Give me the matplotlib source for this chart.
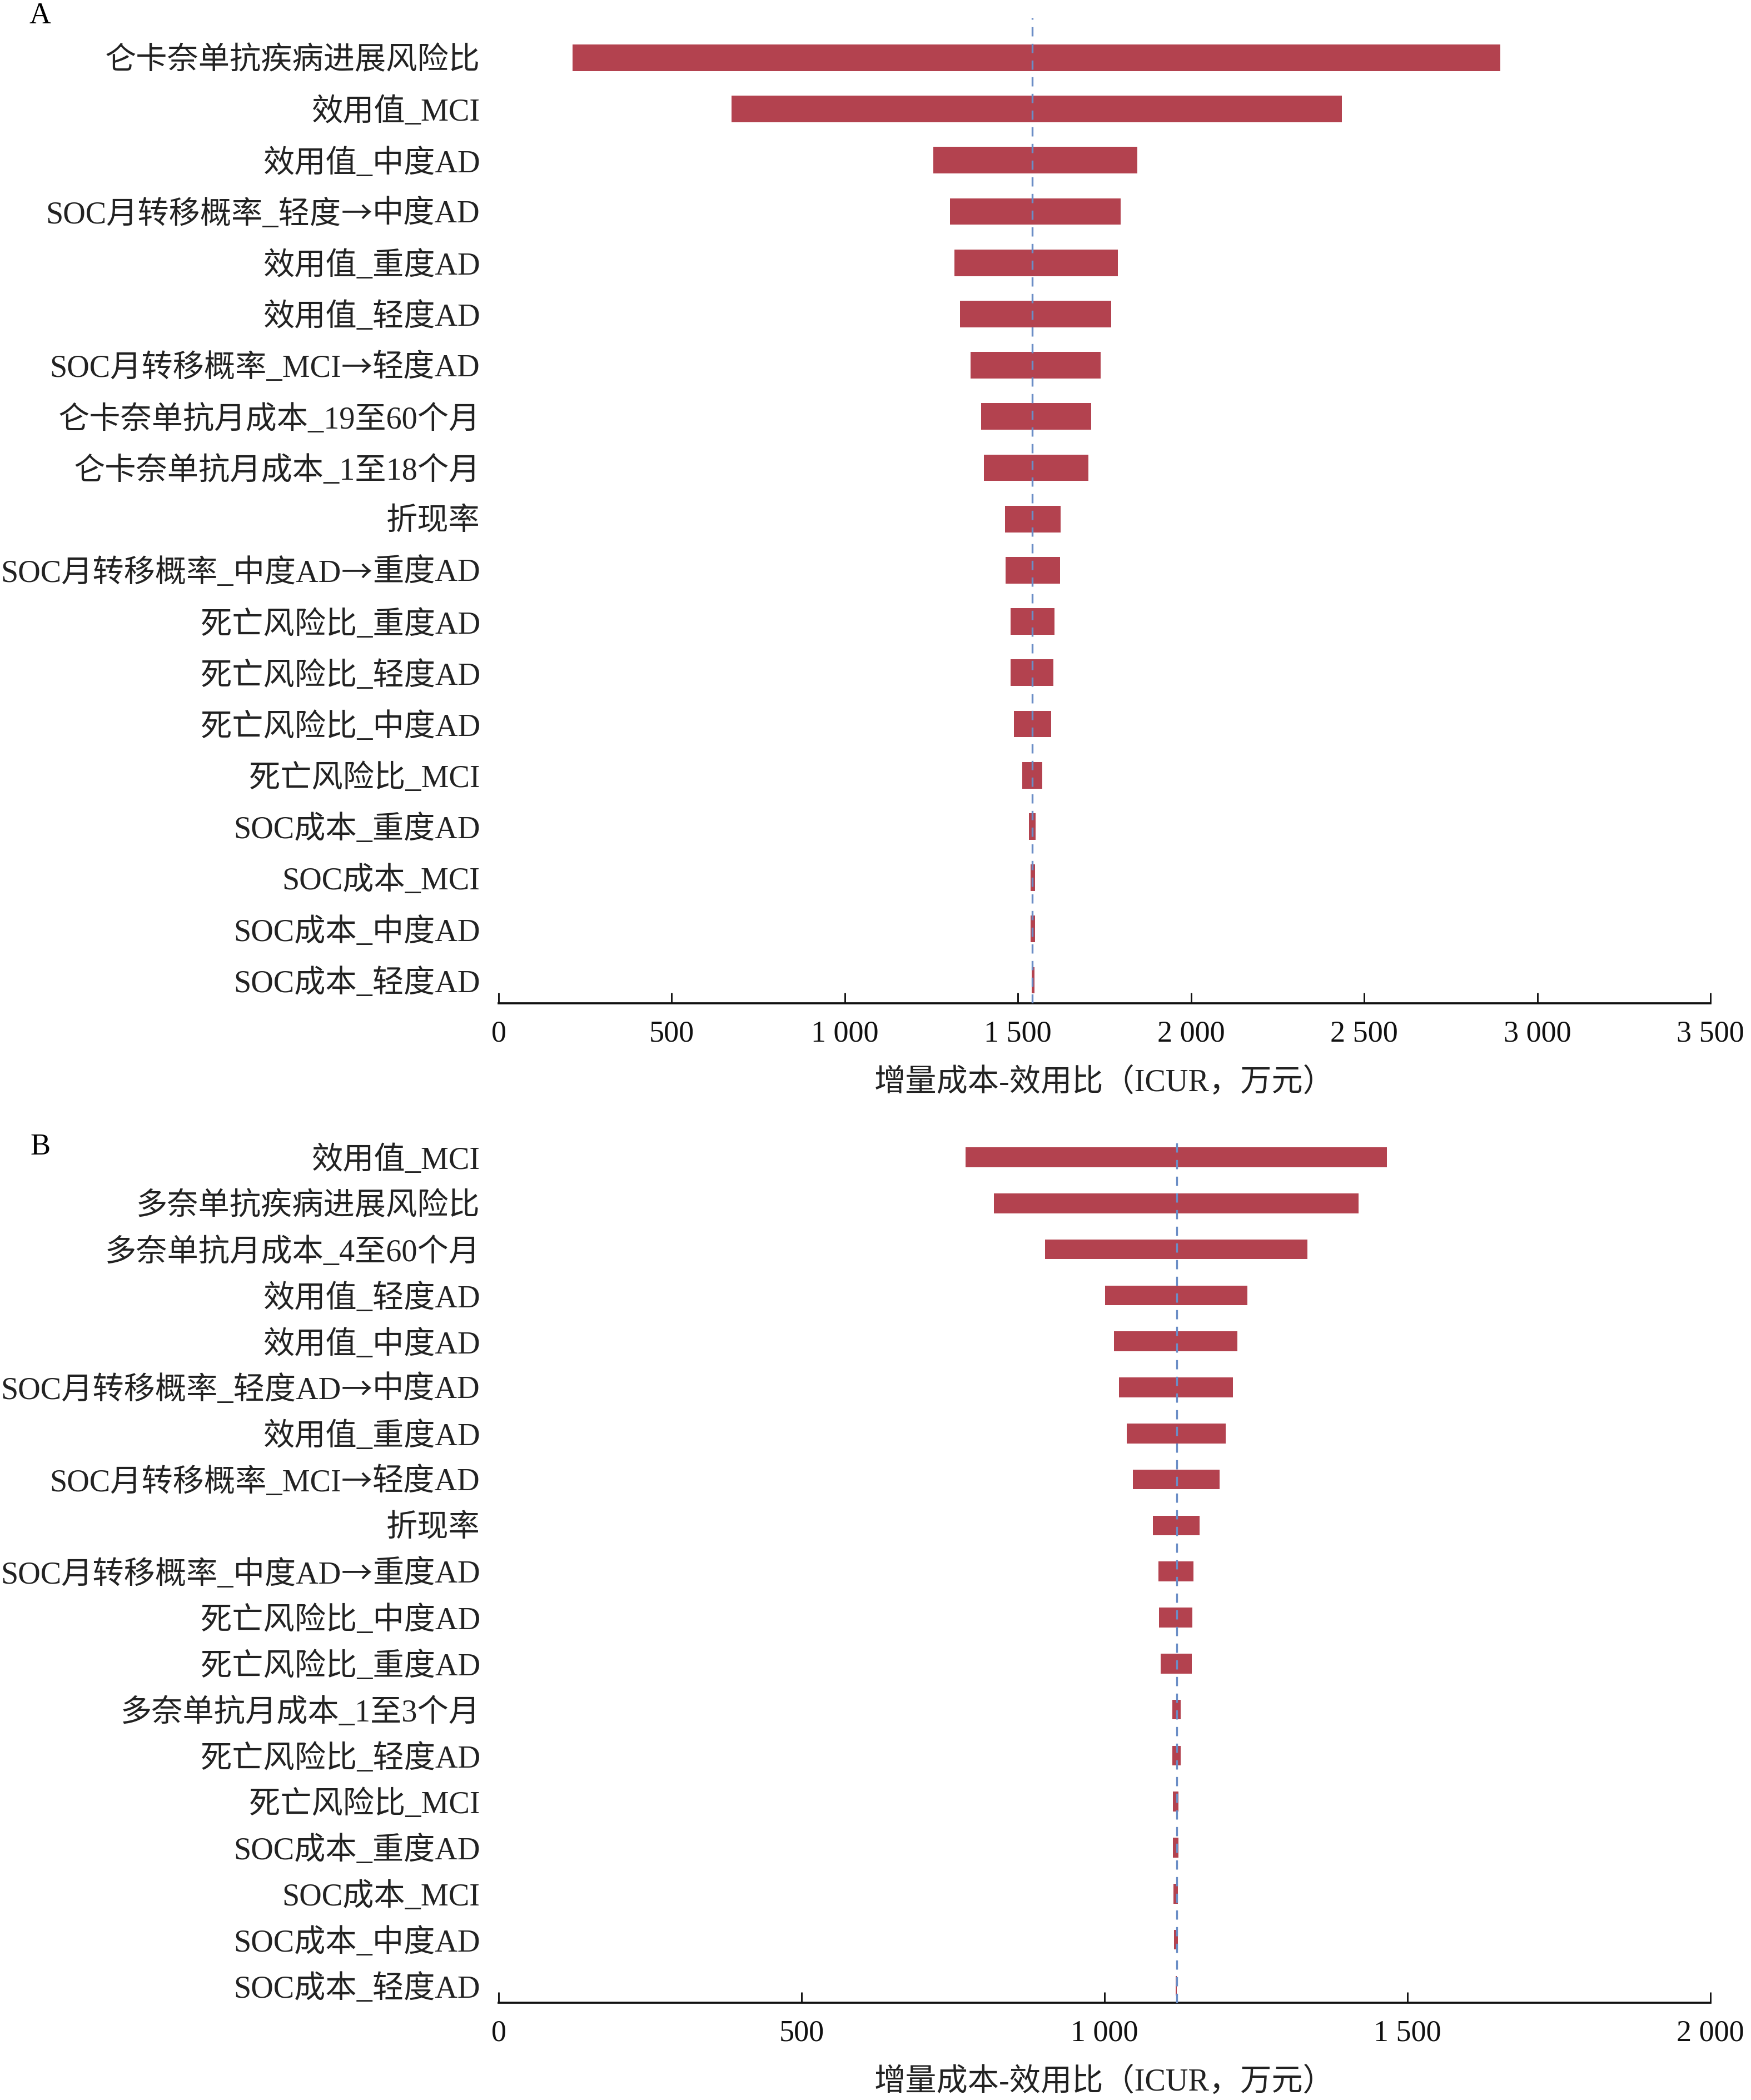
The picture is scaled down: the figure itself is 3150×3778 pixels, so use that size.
import numpy as np
import matplotlib
matplotlib.use('Agg')
import matplotlib.pyplot as plt
from matplotlib.ticker import FuncFormatter

plt.rcParams['font.family'] = ['Liberation Serif', 'Noto Sans CJK SC', 'DejaVu Sans']
plt.rcParams['font.size'] = 13.5

# 图A 仑卡奈单抗
labels_a = ['仑卡奈单抗疾病进展风险比', '效用值_MCI', '效用值_中度AD', 'SOC月转移概率_轻度→中度AD',
            '效用值_重度AD', '效用值_轻度AD', 'SOC月转移概率_MCI→轻度AD', '仑卡奈单抗月成本_19至60个月',
            '仑卡奈单抗月成本_1至18个月', '折现率', 'SOC月转移概率_中度AD→重度AD', '死亡风险比_重度AD',
            '死亡风险比_轻度AD', '死亡风险比_中度AD', '死亡风险比_MCI', 'SOC成本_重度AD',
            'SOC成本_MCI', 'SOC成本_中度AD', 'SOC成本_轻度AD']
low_a = [214, 673, 1256, 1303, 1317, 1332, 1363, 1393, 1401, 1462,
         1464, 1478, 1478, 1489, 1512, 1532, 1536, 1536, 1540]
high_a = [2893, 2435, 1844, 1797, 1788, 1770, 1739, 1712, 1703, 1623,
          1622, 1605, 1603, 1596, 1570, 1551, 1549, 1549, 1547]
base_a = 1541
ticks_a = [0, 500, 1000, 1500, 2000, 2500, 3000, 3500]

# 图B 多奈单抗
labels_b = ['效用值_MCI', '多奈单抗疾病进展风险比', '多奈单抗月成本_4至60个月', '效用值_轻度AD',
            '效用值_中度AD', 'SOC月转移概率_轻度AD→中度AD', '效用值_重度AD', 'SOC月转移概率_MCI→轻度AD',
            '折现率', 'SOC月转移概率_中度AD→重度AD', '死亡风险比_中度AD', '死亡风险比_重度AD',
            '多奈单抗月成本_1至3个月', '死亡风险比_轻度AD', '死亡风险比_MCI', 'SOC成本_重度AD',
            'SOC成本_MCI', 'SOC成本_中度AD', 'SOC成本_轻度AD']
low_b = [771, 817, 902, 1001, 1016, 1024, 1037, 1047, 1080, 1089,
         1090, 1093, 1112, 1112, 1113, 1113, 1114, 1115, 1117.5]
high_b = [1466, 1419, 1335, 1236, 1219, 1212, 1200, 1190, 1157, 1147,
          1145, 1144, 1126, 1126, 1122, 1122, 1121, 1121, 1119.5]
base_b = 1119
ticks_b = [0, 500, 1000, 1500, 2000]

bar_color = '#B3424F'
line_color = '#6A8DC6'
text_color = '#222222'
xlabel = '增量成本-效用比（ICUR，万元）'
label_pad = 8


def fmt(v, pos):
    return f'{int(v):,}'.replace(',', ' ')


def arrow_label(ax, text, yv):
    # 箭头用CJK字体画，和原图一样是大箭头
    pre, post = text.split('→')
    t3 = ax.annotate(post, xy=(0, yv), xycoords=('axes fraction', 'data'),
                     xytext=(-label_pad, 0), textcoords='offset points',
                     ha='right', va='center_baseline', color=text_color)
    t2 = ax.annotate('→', xy=(0, 0.5), xycoords=t3, ha='right', va='center',
                     color=text_color, family=['Noto Sans CJK SC', 'DejaVu Sans'])
    ax.annotate(pre, xy=(0, 0.5), xycoords=t2, ha='right', va='center', color=text_color)


def draw(ax, labels, low, high, base, ticks, h, ylim):
    y = np.arange(len(labels))
    ax.barh(y, np.array(high) - np.array(low), left=low, height=h,
            color=bar_color, edgecolor='none', zorder=2)
    ax.axvline(base, color=line_color, lw=0.8, ls=(0, (5, 4)), zorder=3)
    ax.set_yticks(y)
    ax.set_yticklabels(['' if '→' in s else s for s in labels], color=text_color)
    for i, s in enumerate(labels):
        if '→' in s:
            arrow_label(ax, s, i)
    ax.set_ylim(*ylim)
    ax.set_xlim(ticks[0], ticks[-1])
    ax.set_xticks(ticks)
    ax.xaxis.set_major_formatter(FuncFormatter(fmt))
    for s in ['top', 'right', 'left']:
        ax.spines[s].set_visible(False)
    ax.spines['bottom'].set_linewidth(0.9)
    ax.spines['bottom'].set_color('#111111')
    ax.tick_params(axis='y', length=0, pad=label_pad)
    ax.tick_params(axis='x', direction='in', length=4.6, width=0.7, pad=7.2,
                   colors='#111111', labelsize=13)
    ax.set_xlabel(xlabel, labelpad=8.5, color=text_color)


fig = plt.figure(figsize=(10.5, 3778 / 300), dpi=300)
ax1 = fig.add_axes([897 / 3150, 1 - 1805 / 3778, 2180 / 3150, 1773 / 3778])
ax2 = fig.add_axes([897 / 3150, 1 - 3603 / 3778, 2180 / 3150, 1555 / 3778])

draw(ax1, labels_a, low_a, high_a, base_a, ticks_a, 0.52, (18.45, -0.78))
draw(ax2, labels_b, low_b, high_b, base_b, ticks_b, 0.43, (18.37, -0.41))

fig.text(72 / 3150, 1 - 29 / 3778, 'A', ha='center', va='center', fontsize=13)
fig.text(72 / 3150, 1 - 2064 / 3778, 'B', ha='center', va='center', fontsize=13)

fig.savefig('out.png', dpi=300, facecolor='white')
